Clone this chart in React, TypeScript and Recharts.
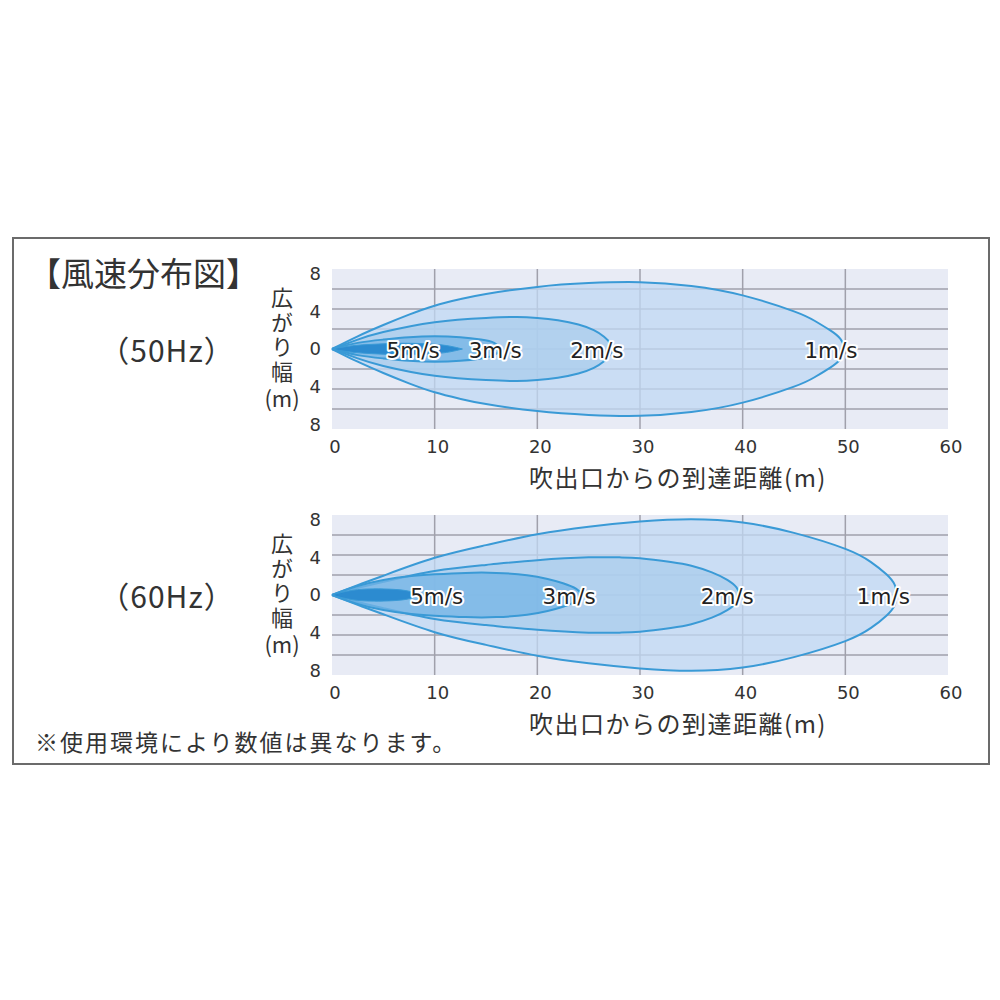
import React from 'react';
import { ComposedChart, Area, XAxis, YAxis, CartesianGrid, ReferenceDot } from 'recharts';

const distanceTicks = [0, 10, 20, 30, 40, 50, 60];
const spreadTicks = [-8, -4, 0, 4, 8];
const gridDistances = [10, 20, 30, 40, 50];
const speedLabels = ['1m/s', '2m/s', '3m/s', '5m/s'];

// 50Hz: distance from outlet (m) and half of the spread width (m)
const hz50Dist1 = [0, 2.5, 5, 7.5, 10, 12.5, 15, 20, 25, 30, 35, 40, 45, 47, 48.5, 49.5, 50];
const hz50Half1 = [0, 1.35, 2.55, 3.65, 4.6, 5.3, 5.85, 6.6, 7.0, 7.1, 6.7, 5.7, 4.0, 3.0, 2.0, 1.1, 0];
const hz50Dist2 = [0, 2.5, 5, 10, 15, 18, 20, 22, 24, 25.5, 26.5, 27.1, 27.3];
const hz50Half2 = [0, 1.0, 1.8, 2.85, 3.3, 3.4, 3.3, 3.05, 2.6, 2.0, 1.3, 0.6, 0];
const hz50Dist3 = [0, 2.5, 5, 7.5, 10, 12.5, 14.5, 15.8, 16.5];
const hz50Half3 = [0, 0.65, 1.0, 1.25, 1.35, 1.25, 1.0, 0.65, 0];
const hz50Dist5 = [0, 2, 4, 6, 8, 10, 11.5, 12.7];
const hz50Half5 = [0, 0.35, 0.5, 0.6, 0.6, 0.5, 0.3, 0];
const hz50LabelAt = [48.6, 25.8, 15.9, 7.9];

// 60Hz
const hz60Dist1 = [0, 2.5, 5, 10, 15, 20, 25, 30, 35, 40, 45, 50, 52.5, 54, 54.8, 55];
const hz60Half1 = [0, 1.05, 2.05, 3.95, 5.3, 6.45, 7.25, 7.8, 8.05, 7.7, 6.6, 4.9, 3.5, 2.2, 1.1, 0];
const hz60Dist2 = [0, 2.5, 5, 10, 15, 20, 25, 28, 30, 33, 35, 37, 38.5, 39.4, 39.7];
const hz60Half2 = [0, 0.75, 1.4, 2.55, 3.2, 3.7, 4.0, 4.0, 3.9, 3.5, 3.1, 2.4, 1.6, 0.8, 0];
const hz60Dist3 = [0, 2.5, 5, 7.5, 10, 13, 16, 19, 21, 22.5, 23.8, 24.4];
const hz60Half3 = [0, 0.95, 1.6, 2.0, 2.2, 2.35, 2.35, 2.1, 1.7, 1.25, 0.65, 0];
const hz60Dist5 = [0, 2, 4, 6, 7.5, 8.5];
const hz60Half5 = [0, 0.5, 0.65, 0.6, 0.4, 0];
const hz60LabelAt = [53.7, 38.5, 23.1, 10.2];

const fills = ['#c0d8f3', '#a9ccec', '#74b4e5', '#0f7bc8'];
const outline = '#3a9ad6';
const textColor = '#333';
const latin = '"DejaVu Sans", "Noto Sans CJK JP", sans-serif';
const cjk = '"Noto Sans CJK JP", sans-serif';

// 8 equal bands over the [-8.5, 8.5] spread axis
const Y_MIN = -8.5;
const Y_MAX = 8.5;
const gridSpreads = Array.from({ length: 7 }, (_, i) => Y_MIN + ((i + 1) * (Y_MAX - Y_MIN)) / 8);

type Zone = { dist: number[]; half: number[] };

function buildRows(zones: Zone[]) {
  const xs = Array.from(new Set(zones.flatMap((z) => z.dist))).sort((a, b) => a - b);
  return xs.map((x) => {
    const row: any = { x };
    zones.forEach((z, i) => {
      const j = z.dist.indexOf(x);
      row['s' + i] = j >= 0 ? [-z.half[j], z.half[j]] : null;
    });
    return row;
  });
}

const SpeedLabel = (text: string) => (props: any) => {
  const vb = props.viewBox || {};
  const cx = (vb.x || 0) + (vb.width || 0) / 2;
  const cy = (vb.y || 0) + (vb.height || 0) / 2;
  return (
    <text
      x={cx}
      y={cy + 1}
      textAnchor="middle"
      dominantBaseline="central"
      fontSize={21.5}
      fontFamily={latin}
      fill="#222"
      stroke="#fff"
      strokeWidth={4}
      strokeLinejoin="round"
      paintOrder="stroke"
    >
      {text}
    </text>
  );
};

const Panel = ({ zones, labelAt, top }: { zones: Zone[]; labelAt: number[]; top: number }) => {
  const rows = buildRows(zones);
  return (
    <div style={{ position: 'absolute', left: 292, top }}>
      <ComposedChart width={676} height={200} data={rows} margin={{ top: 10, right: 20, bottom: 0, left: 0 }}>
        <CartesianGrid
          fill="#e8ebf5"
          fillOpacity={1}
          stroke="#a0a0ab"
          strokeWidth={1.5}
          horizontalValues={gridSpreads}
          verticalValues={gridDistances}
        />
        <XAxis
          dataKey="x"
          type="number"
          domain={[0, 60]}
          ticks={distanceTicks}
          interval={0}
          axisLine={false}
          tickLine={false}
          tickSize={0}
          tickMargin={11}
          height={30}
          tick={{ fill: textColor, fontSize: 18, fontFamily: latin, dx: 3 }}
        />
        <YAxis
          type="number"
          domain={[Y_MIN, Y_MAX]}
          ticks={spreadTicks}
          interval={0}
          allowDataOverflow
          axisLine={false}
          tickLine={false}
          tickSize={0}
          tickMargin={11}
          width={40}
          tickFormatter={(v: number) => String(Math.abs(v))}
          tick={{ fill: textColor, fontSize: 18, fontFamily: latin }}
        />
        {zones.map((_, i) => (
          <Area
            key={'s' + i}
            dataKey={'s' + i}
            type="natural"
            connectNulls
            fill={fills[i]}
            fillOpacity={0.75}
            stroke={outline}
            strokeWidth={i === 3 ? 1 : 2}
            isAnimationActive={false}
            dot={false}
            activeDot={false}
          />
        ))}
        {labelAt.map((x, i) => (
          <ReferenceDot key={speedLabels[i]} x={x} y={0} r={0} fill="none" stroke="none" label={SpeedLabel(speedLabels[i])} />
        ))}
      </ComposedChart>
    </div>
  );
};

// vertical axis title: "広がり幅" stacked, "(m)" underneath
const SpreadTitle = ({ center }: { center: number }) => (
  <>
    <div
      style={{
        position: 'absolute',
        left: 271,
        top: center - 62,
        width: 22,
        writingMode: 'vertical-rl',
        fontFamily: cjk,
        fontSize: 22,
        lineHeight: '22px',
        letterSpacing: 2.5,
        color: textColor,
      }}
    >
      広がり幅
    </div>
    <div
      style={{
        position: 'absolute',
        left: 262,
        top: center + 37,
        width: 40,
        textAlign: 'center',
        fontFamily: cjk,
        fontSize: 22,
        lineHeight: '22px',
        color: textColor,
      }}
    >
      (m)
    </div>
  </>
);

const DistanceTitle = ({ top }: { top: number }) => (
  <div
    style={{
      position: 'absolute',
      left: 478,
      top,
      width: 400,
      textAlign: 'center',
      fontFamily: cjk,
      fontSize: 24,
      lineHeight: '24px',
      letterSpacing: 1.5,
      color: textColor,
    }}
  >
    吹出口からの到達距離(m)
  </div>
);

const FreqTitle = ({ text, top }: { text: string; top: number }) => (
  <div
    style={{
      position: 'absolute',
      left: 87,
      top,
      width: 160,
      textAlign: 'center',
      fontFamily: cjk,
      fontSize: 30,
      lineHeight: '30px',
      letterSpacing: 1,
      color: textColor,
    }}
  >
    {text}
  </div>
);

export default function App() {
  const zones50: Zone[] = [
    { dist: hz50Dist1, half: hz50Half1 },
    { dist: hz50Dist2, half: hz50Half2 },
    { dist: hz50Dist3, half: hz50Half3 },
    { dist: hz50Dist5, half: hz50Half5 },
  ];
  const zones60: Zone[] = [
    { dist: hz60Dist1, half: hz60Half1 },
    { dist: hz60Dist2, half: hz60Half2 },
    { dist: hz60Dist3, half: hz60Half3 },
    { dist: hz60Dist5, half: hz60Half5 },
  ];

  return (
    <div style={{ position: 'absolute', left: 0, top: 0, width: 1000, height: 1000, background: '#fff' }}>
      <div
        style={{
          position: 'absolute',
          left: 12,
          top: 237,
          width: 974,
          height: 524,
          border: '2px solid #6b6b6b',
        }}
      />
      <div
        style={{
          position: 'absolute',
          left: 28,
          top: 256,
          fontFamily: cjk,
          fontSize: 33,
          lineHeight: '33px',
          color: textColor,
        }}
      >
        【風速分布図】
      </div>
      <FreqTitle text="（50Hz）" top={334} />
      <FreqTitle text="（60Hz）" top={580} />
      <SpreadTitle center={349} />
      <SpreadTitle center={595} />
      <Panel zones={zones50} labelAt={hz50LabelAt} top={259} />
      <Panel zones={zones60} labelAt={hz60LabelAt} top={505} />
      <DistanceTitle top={465} />
      <DistanceTitle top={711} />
      <div
        style={{
          position: 'absolute',
          left: 35,
          top: 730,
          fontFamily: cjk,
          fontSize: 23,
          lineHeight: '23px',
          letterSpacing: 2,
          color: textColor,
        }}
      >
        ※使用環境により数値は異なります。
      </div>
    </div>
  );
}
